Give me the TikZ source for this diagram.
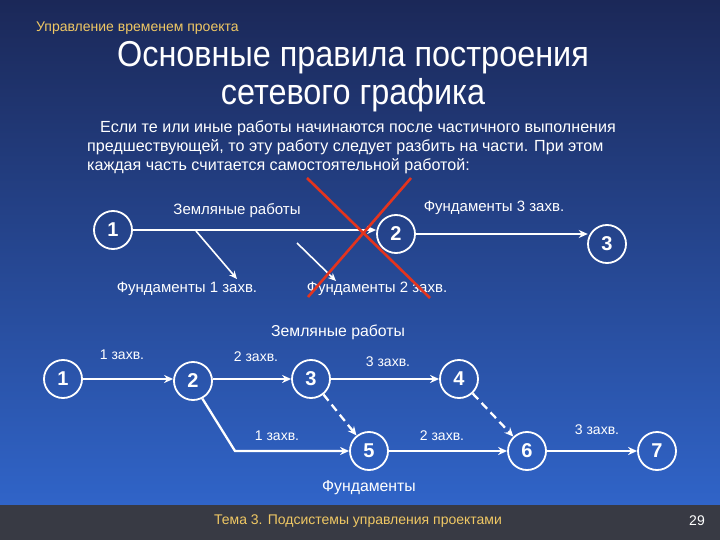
\documentclass[tikz,border=0pt]{standalone}
\usepackage{fontspec}
\setmainfont{Liberation Sans}
\usetikzlibrary{arrows.meta}
\definecolor{bgtop}{RGB}{27,40,88}
\definecolor{bgbot}{RGB}{48,100,200}
\definecolor{foot}{RGB}{56,58,68}
\definecolor{hdr}{RGB}{240,200,100}
\definecolor{xred}{RGB}{228,52,30}
\begin{document}
\begin{tikzpicture}[x=1pt,y=-1pt,
  nd/.style={circle,draw=white,line width=1.8pt,minimum size=38pt,inner sep=0pt,text=white,font=\fontsize{20}{22}\selectfont\bfseries},
  lbl/.style={text=white,font=\fontsize{14}{16}\selectfont,inner sep=0pt},
  blbl/.style={text=white,font=\fontsize{15.8}{18}\selectfont,inner sep=0pt},
  tlbl/.style={text=white,font=\fontsize{15}{17}\selectfont,inner sep=0pt},
  body/.style={text=white,font=\fontsize{16.1}{19}\selectfont,inner sep=0pt,anchor=base west},
  arr/.style={draw=white,line width=2.3pt,-{Stealth[length=9pt,width=8pt]}},
  darr/.style={arr,dash pattern=on 8pt off 5pt},
  xline/.style={draw=xred,line width=2.6pt}]
\useasboundingbox (0,0) rectangle (720,540);
\shade[top color=bgtop,bottom color=bgbot] (0,0) rectangle (720,505);
\fill[foot] (0,505) rectangle (720,540);
% header
\node[anchor=west,text=hdr,font=\fontsize{14}{16}\selectfont,inner sep=0pt] (hdr) at (36,28) {Управление временем проекта};
\node[text=white,font=\fontsize{36}{40}\selectfont,xscale=0.9,inner sep=0pt] (t1l) at (353,58) {Основные правила построения};
\node[text=white,font=\fontsize{36}{40}\selectfont,xscale=0.9,inner sep=0pt] (t2l) at (353,95) {сетевого графика};
\node[body] (p1) at (100,133) {Если те или иные работы начинаются после частичного выполнения};
\node[body] (p2) at (87,152) {предшествующей, то эту работу следует разбить на части. При этом};
\node[body] (p3) at (87,171) {каждая часть считается самостоятельной работой:};
% top diagram
\node[nd] (t1) at (113,230) {1};
\node[nd] (t2) at (396,234) {2};
\node[nd] (t3) at (607,244) {3};
\draw[arr] (t1.east) -- (t1.east -| t2.west);
\draw[arr] (t2.east) -- (t2.east -| t3.165);
\coordinate (d1s) at (196,231);
\coordinate (d1e) at (237,279);
\coordinate (d2s) at (297,243);
\coordinate (d2e) at (336,281);
\draw[draw=white,line width=1.6pt,-{Stealth[length=8pt,width=7pt]}] (d1s) -- (d1e);
\draw[draw=white,line width=1.6pt,-{Stealth[length=8pt,width=7pt]}] (d2s) -- (d2e);
\node[tlbl] (lz1) at (237,211) {Земляные работы};
\node[tlbl] (lf3) at (494,208) {Фундаменты 3 захв.};
\node[tlbl] (lf1) at (187,289) {Фундаменты 1 захв.};
\node[tlbl] (lf2) at (377,289) {Фундаменты 2 захв.};
\coordinate (x1a) at (307,178);
\coordinate (x1b) at (430,298);
\coordinate (x2a) at (411,178);
\coordinate (x2b) at (308,297);
\draw[xline] (x1a) -- (x1b);
\draw[xline] (x2a) -- (x2b);
% bottom diagram
\node[nd] (b1) at (63,379) {1};
\node[nd] (b2) at (193,381) {2};
\node[nd] (b3) at (311,379) {3};
\node[nd] (b4) at (459,379) {4};
\node[nd] (b5) at (369,451) {5};
\node[nd] (b6) at (527,451) {6};
\node[nd] (b7) at (657,451) {7};
\coordinate (c25) at (235,451);
\draw[arr] (b1.east) -- (b1.east -| b2.west);
\draw[arr] (b2.east |- b3.west) -- (b3.west);
\draw[arr] (b3) -- (b4);
\draw[arr] (b2.-62) -- (c25) -- (b5);
\draw[arr] (b5) -- (b6);
\draw[arr] (b6) -- (b7);
\draw[darr] (b3) -- (b5);
\draw[darr] (b4) -- (b6);
\node[blbl] (lz2) at (338,332) {Земляные работы};
\node[lbl] (l12) at (122,355) {1 захв.};
\node[lbl] (l23) at (256,357) {2 захв.};
\node[lbl] (l34) at (388,362) {3 захв.};
\node[lbl] (l25) at (277,436) {1 захв.};
\node[lbl] (l56) at (442,436) {2 захв.};
\node[lbl] (l67) at (597,430) {3 захв.};
\node[blbl] (lfd) at (369,488) {Фундаменты};
% footer
\node[text=hdr,font=\fontsize{14}{16}\selectfont,inner sep=0pt] (ft) at (358,521) {Тема 3. Подсистемы управления проектами};
\node[text=white,font=\fontsize{14}{16}\selectfont,inner sep=0pt] (pg) at (697,521) {29};
\end{tikzpicture}
\end{document}
